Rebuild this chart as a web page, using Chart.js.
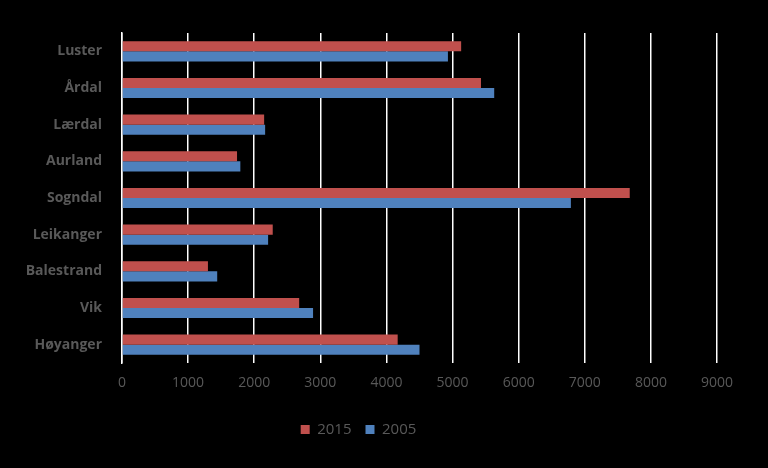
<!DOCTYPE html>
<html>
<head>
<meta charset="utf-8">
<script src="https://cdn.jsdelivr.net/npm/chart.js@4"></script>
<style>
  html, body { margin: 0; padding: 0; background: #000; }
  #wrap { width: 768px; height: 468px; }
</style>
</head>
<body>
<div id="wrap"><canvas id="chartPlace"></canvas></div>
<script>
const kommuner = ['Luster', 'Årdal', 'Lærdal', 'Aurland', 'Sogndal', 'Leikanger', 'Balestrand', 'Vik', 'Høyanger'];
const verdi2015 = [5130, 5430, 2150, 1740, 7680, 2280, 1300, 2680, 4170];
const verdi2005 = [4930, 5630, 2165, 1790, 6790, 2210, 1440, 2890, 4500];
const xTicks = [0, 1000, 2000, 3000, 4000, 5000, 6000, 7000, 8000, 9000];

var textColor = '#595959';

var ctx = document.getElementById('chartPlace').getContext('2d');
var chart = new Chart(ctx, {
	type: 'bar',
	data: {
		labels: kommuner,
		datasets: [{
			label: '2015',
			data: verdi2015,
			backgroundColor: '#C0504D'
		}, {
			label: '2005',
			data: verdi2005,
			backgroundColor: '#4F81BD'
		}]
	},
	options: {
		indexAxis: 'y',
		responsive: true,
		maintainAspectRatio: false,
		animation: false,
		datasets: {
			bar: { barPercentage: 1, categoryPercentage: 0.55 }
		},
		layout: { padding: { left: 0, right: 51, top: 33, bottom: 21 } },
		scales: {
			x: {
				min: 0,
				max: 9000,
				afterBuildTicks: function (scale) {
					scale.ticks = xTicks.map(v => ({ value: v }));
				},
				afterFit: function (scale) { scale.height = 45; },
				grid: { color: '#FFFFFF', lineWidth: 1.5, drawTicks: false },
				border: { display: false },
				ticks: {
					color: textColor,
					padding: 12,
					callback: function (v) { return String(v); },
					font: { family: 'Open Sans', size: 14 }
				}
			},
			y: {
				afterFit: function (scale) { scale.width = 122; },
				grid: { display: false },
				border: { color: '#FFFFFF', width: 1.5 },
				ticks: {
					color: textColor,
					padding: 12,
					font: { family: 'Open Sans', size: 14, weight: 'bold' }
				}
			}
		},
		plugins: {
			legend: {
				position: 'bottom',
				labels: {
					color: textColor,
					boxWidth: 9,
					boxHeight: 9,
					padding: 14,
					font: { family: 'Open Sans', size: 15 }
				}
			},
			tooltip: { enabled: false }
		}
	}
});
</script>
</body>
</html>
